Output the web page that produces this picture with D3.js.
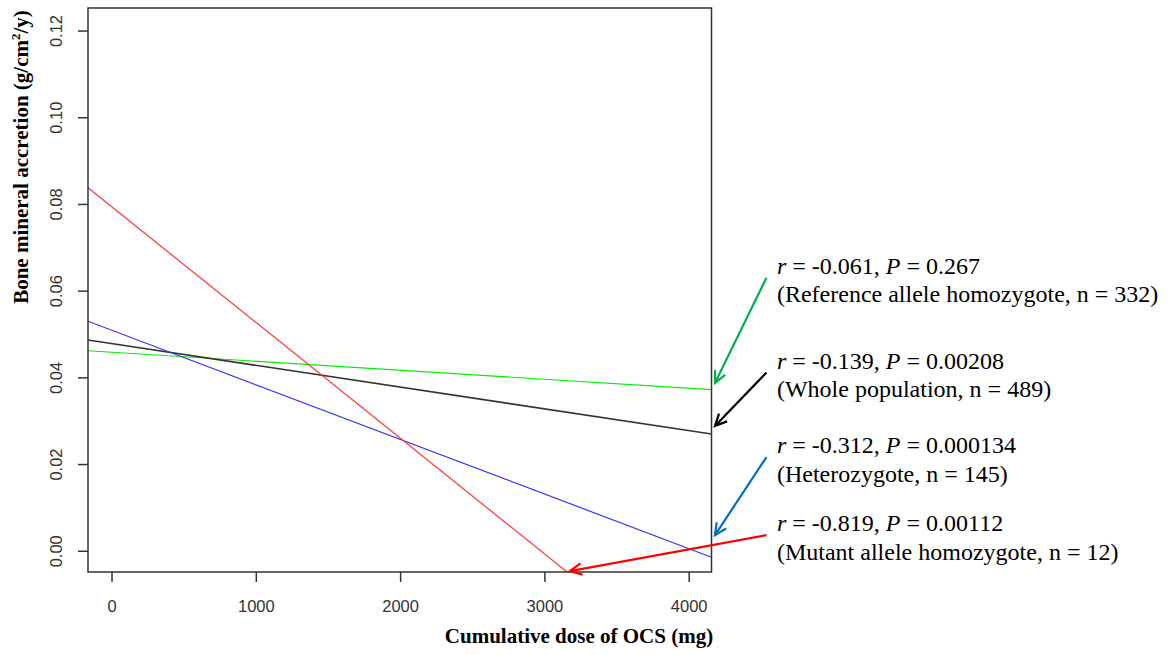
<!DOCTYPE html>
<html>
<head>
<meta charset="utf-8">
<script src="https://cdn.jsdelivr.net/npm/d3@7.9.0/dist/d3.min.js"></script>
<style>
  body { margin: 0; background: #fff; }
  svg { display: block; }
</style>
</head>
<body>
<div id="chart"></div>
<script>
// fitted lines: intercept at dose 0, slope per mg
const groups = ['Reference allele homozygote', 'Whole population', 'Heterozygote', 'Mutant allele homozygote'];
const intercepts = [0.0458, 0.0478, 0.0509, 0.0794];
const slopes = [-2.08e-6, -5.02e-6, -1.26e-5, -2.67e-5];
const lineColors = ['#00ee00', '#333333', '#3333ff', '#ff3333'];

const rValues = ['-0.061', '-0.139', '-0.312', '-0.819'];
const pValues = ['0.267', '0.00208', '0.000134', '0.00112'];
const nValues = [332, 489, 145, 12];
const arrowColors = ['#00b050', '#000000', '#0070c0', '#ff0000'];
// arrow start / tip in data units
const arrowStart = [[4539, 0.0630], [4539, 0.0411], [4539, 0.0216], [4539, 0.0036]];
const arrowTip = [[4182, 0.0387], [4182, 0.0288], [4182, 0.0036], [3177, -0.0047]];

const xTicks = [0, 1000, 2000, 3000, 4000];
const yTicks = [0.00, 0.02, 0.04, 0.06, 0.08, 0.10, 0.12];

const width = 1169, height = 655;
const plot = { left: 88, right: 711.5, top: 8, bottom: 572 };

const svg = d3.select('#chart').append('svg')
  .attr('width', width)
  .attr('height', height);

const x = d3.scaleLinear().domain([-163, 4158]).range([plot.left, plot.right]);
const y = d3.scaleLinear().domain([-0.0049, 0.1252]).range([plot.bottom, plot.top]);

svg.append('clipPath').attr('id', 'clip')
  .append('rect')
  .attr('x', plot.left).attr('y', plot.top)
  .attr('width', plot.right - plot.left).attr('height', plot.bottom - plot.top);

// regression lines
const xd = x.domain();
const lineGen = d3.line().x(d => x(d[0])).y(d => y(d[1]));
svg.append('g').attr('clip-path', 'url(#clip)')
  .selectAll('path')
  .data(groups.map((g, i) => xd.map(v => [v, intercepts[i] + slopes[i] * v])))
  .join('path')
  .attr('d', lineGen)
  .attr('fill', 'none')
  .attr('stroke', (d, i) => lineColors[i])
  .attr('stroke-width', (d, i) => i === 1 ? 1.6 : 1.2);

// axes
const xAxis = svg.append('g')
  .attr('transform', `translate(0,${plot.bottom})`)
  .call(d3.axisBottom(x).tickValues(xTicks).tickSize(10).tickPadding(18).tickFormat(d3.format('d')));
const yAxis = svg.append('g')
  .attr('transform', `translate(${plot.left},0)`)
  .call(d3.axisLeft(y).tickValues(yTicks).tickSize(10).tickFormat(d3.format('.2f')));

[xAxis, yAxis].forEach(a => {
  a.select('.domain').remove();
  a.selectAll('line').attr('stroke', '#333').attr('stroke-width', 1.5);
  a.selectAll('text')
    .attr('font-family', 'Liberation Sans, Arial, sans-serif')
    .attr('font-size', 16.5)
    .attr('fill', '#333');
});
yAxis.selectAll('text')
  .attr('x', null).attr('dy', null)
  .attr('text-anchor', 'middle')
  .attr('transform', 'translate(-26,0) rotate(-90)');

// box
svg.append('rect')
  .attr('x', plot.left).attr('y', plot.top)
  .attr('width', plot.right - plot.left).attr('height', plot.bottom - plot.top)
  .attr('fill', 'none').attr('stroke', '#333').attr('stroke-width', 1.5);

// axis titles
svg.append('text')
  .attr('x', 579).attr('y', 643)
  .attr('text-anchor', 'middle')
  .attr('font-family', 'Liberation Serif, Times New Roman, serif')
  .attr('font-weight', 'bold')
  .attr('font-size', 21)
  .text('Cumulative dose of OCS (mg)');

const yt = svg.append('text')
  .attr('transform', 'translate(28,157) rotate(-90)')
  .attr('text-anchor', 'middle')
  .attr('font-family', 'Liberation Serif, Times New Roman, serif')
  .attr('font-weight', 'bold')
  .attr('font-size', 21);
yt.append('tspan').text('Bone mineral accretion (g/cm');
yt.append('tspan').attr('font-size', 13).attr('dy', -8).text('2');
yt.append('tspan').attr('dy', 8).text('/y)');

// arrows
const arrows = svg.append('g');
groups.forEach((g, i) => {
  const x0 = x(arrowStart[i][0]), y0 = y(arrowStart[i][1]);
  const x1 = x(arrowTip[i][0]), y1 = y(arrowTip[i][1]);
  const ang = Math.atan2(y1 - y0, x1 - x0);
  const head = 13, spread = Math.PI / 7;
  const p = d3.path();
  p.moveTo(x0, y0); p.lineTo(x1, y1);
  p.moveTo(x1 - head * Math.cos(ang - spread), y1 - head * Math.sin(ang - spread));
  p.lineTo(x1, y1);
  p.lineTo(x1 - head * Math.cos(ang + spread), y1 - head * Math.sin(ang + spread));
  arrows.append('path')
    .attr('d', p.toString())
    .attr('fill', 'none')
    .attr('stroke', arrowColors[i])
    .attr('stroke-width', 2.2);

  const tx = x0 + 10.5, ty = y0 - 4;
  const t1 = svg.append('text')
    .attr('x', tx).attr('y', ty)
    .attr('font-family', 'Liberation Serif, Times New Roman, serif')
    .attr('font-size', 24).attr('fill', '#000');
  t1.append('tspan').attr('font-style', 'italic').text('r');
  t1.append('tspan').text(` = ${rValues[i]}, `);
  t1.append('tspan').attr('font-style', 'italic').text('P');
  t1.append('tspan').text(` = ${pValues[i]}`);
  svg.append('text')
    .attr('x', tx).attr('y', ty + 28.5)
    .attr('font-family', 'Liberation Serif, Times New Roman, serif')
    .attr('font-size', 24).attr('fill', '#000')
    .text(`(${g}, n = ${nValues[i]})`);
});
</script>
</body>
</html>
